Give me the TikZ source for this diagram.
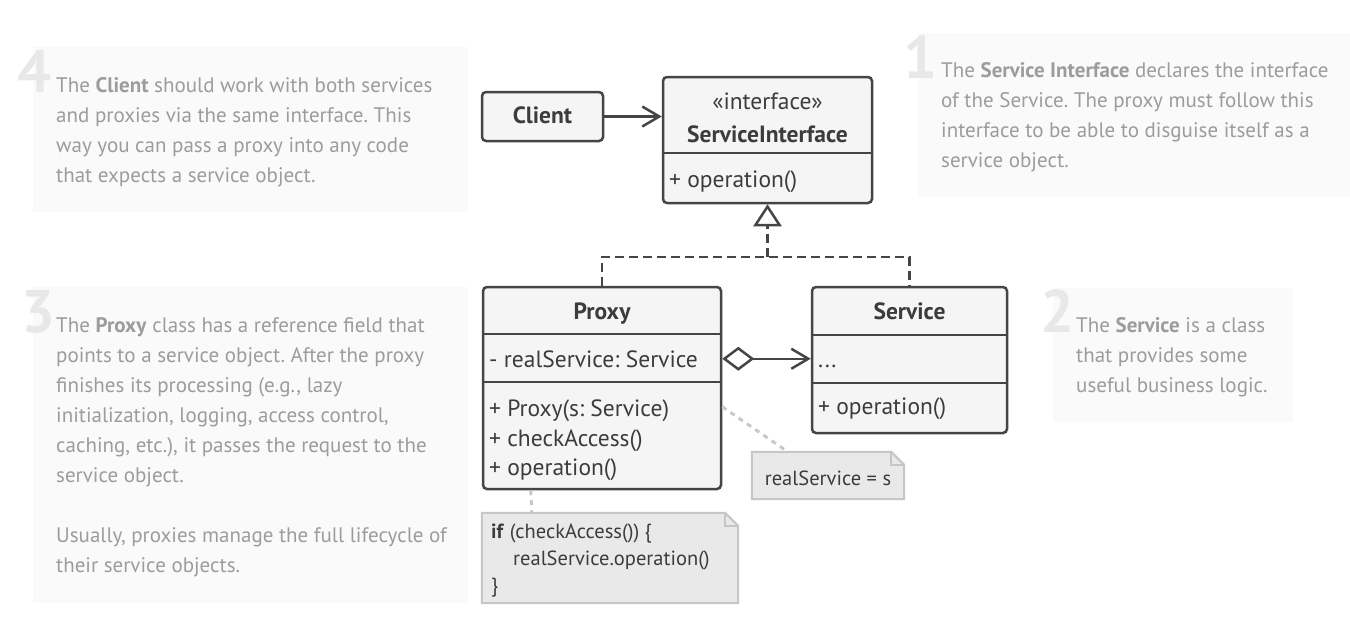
\documentclass[tikz,border=0pt]{standalone}
\usepackage{fontspec}
\setmainfont{PT Sans}
\usetikzlibrary{arrows.meta,calc,backgrounds}
\definecolor{tbfill}{HTML}{FAFAFA}
\definecolor{tbtextc}{HTML}{9C9C9C}
\definecolor{digitc}{HTML}{E8E8E8}
\definecolor{clsfill}{HTML}{F5F5F5}
\definecolor{clsborder}{HTML}{454545}
\definecolor{clstextc}{HTML}{3C3C3C}
\definecolor{notefill}{HTML}{E9E9E9}
\definecolor{noteborder}{HTML}{C6C6C6}
\definecolor{dotc}{HTML}{C8C8C8}
\frenchspacing
\tikzset{
  tbox/.style={fill=tbfill, draw=none, inner sep=0pt},
  digit/.style={text=digitc, font=\fontsize{60}{60}\selectfont\bfseries, inner sep=0pt},
  tbtext/.style={text=tbtextc, font=\fontsize{21}{30}\selectfont, align=left, inner sep=0pt},
  cls/.style={fill=clsfill, draw=clsborder, line width=2.5pt, rounded corners=4pt, inner sep=0pt},
  clsline/.style={draw=clsborder, line width=2.5pt},
  clstext/.style={text=clstextc, font=\fontsize{23.5}{28}\selectfont, inner sep=0pt},
  clsbold/.style={clstext, font=\fontsize{23.5}{28}\selectfont\bfseries},
  notetext/.style={text=clstextc, font=\fontsize{20.5}{27}\selectfont, inner sep=0pt},
  noteshape/.style={fill=notefill, draw=noteborder, line width=2pt, line join=miter},
  dotcon/.style={draw=dotc, line width=3pt, dash pattern=on 5pt off 5pt},
  dashcon/.style={draw=clsborder, line width=2.5pt, dash pattern=on 9pt off 5pt},
  conline/.style={draw=clsborder, line width=2.5pt},
  openhead/.tip={Straight Barb[length=17pt,width=20pt,line width=2.5pt]},
}
\begin{document}
\begin{tikzpicture}[x=1pt,y=-1pt]
\useasboundingbox (0,0) rectangle (1350,629);

% ---- text box 4 ----
\node[tbox, minimum width=435pt, minimum height=165pt] (b4) at (250.5,129.5) {};
\node[digit, anchor=south west] (d4) at (17,93) {4};
\node[tbtext, anchor=north west] (t4) at (56,77.7) {The \textbf{Client} should work with both services\\and proxies via the same interface. This\\way you can pass a proxy into any code\\that expects a service object.};

% ---- text box 1 ----
\node[tbox, minimum width=432pt, minimum height=164pt] (b1) at (1134,115) {};
\node[digit, anchor=south west] (d1) at (903,79) {1};
\node[tbtext, anchor=north west] (t1) at (941,62.7) {The \textbf{Service Interface} declares the interface\\of the Service. The proxy must follow this\\interface to be able to disguise itself as a\\service object.};

% ---- text box 2 ----
\node[tbox, minimum width=240pt, minimum height=134pt] (b2) at (1173,355) {};
\node[digit, anchor=south west] (d2) at (1040,333) {2};
\node[tbtext, anchor=north west] (t2) at (1076,317.7) {The \textbf{Service} is a class\\that provides some\\useful business logic.};

% ---- text box 3 ----
\node[tbox, minimum width=435pt, minimum height=316pt] (b3) at (250.5,445) {};
\node[digit, anchor=south west] (d3) at (21,334) {3};
\node[tbtext, anchor=north west] (t3) at (56,317.7) {The \textbf{Proxy} class has a reference field that\\points to a service object. After the proxy\\finishes its processing (e.g., lazy\\initialization, logging, access control,\\caching, etc.), it passes the request to the\\service object.\\[30pt]Usually, proxies manage the full lifecycle of\\their service objects.};

% ---- Client ----
\node[cls, minimum width=121pt, minimum height=49pt] (client) at (542.5,116.5) {};
\node[clsbold, anchor=base] (clientl) at (542.5,123.5) {Client};

% ---- ServiceInterface ----
\node[cls, minimum width=209pt, minimum height=126pt] (si) at (767.5,140) {};
\draw[clsline] ($(si.north west)+(0,77)$) -- ($(si.north east)+(0,77)$);
\node[clstext, anchor=base] (sil1) at (767.5,109) {«interface»};
\node[clsbold, anchor=base] (sil2) at (767.5,142) {ServiceInterface};
\node[clstext, anchor=base west] (siop) at (669,187) {+ operation()};

% ---- Proxy ----
\node[cls, minimum width=238pt, minimum height=202pt] (proxy) at (602,388) {};
\draw[clsline] ($(proxy.north west)+(0,48)$) -- ($(proxy.north east)+(0,48)$);
\draw[clsline] ($(proxy.north west)+(0,96)$) -- ($(proxy.north east)+(0,96)$);
\node[clsbold, anchor=base] (pl) at (602,319) {Proxy};
\node[clstext, anchor=base west] (pf) at (489,367) {- realService: Service};
\node[clstext, anchor=base west] (pm1) at (489,416) {+ Proxy(s: Service)};
\node[clstext, anchor=base west] (pm2) at (489,446) {+ checkAccess()};
\node[clstext, anchor=base west] (pm3) at (489,475) {+ operation()};

% ---- Service ----
\node[cls, minimum width=195pt, minimum height=146pt] (service) at (909.5,360) {};
\draw[clsline] ($(service.north west)+(0,49)$) -- ($(service.north east)+(0,49)$);
\draw[clsline] ($(service.north west)+(0,97)$) -- ($(service.north east)+(0,97)$);
\node[clsbold, anchor=base] (sl) at (909.5,319) {Service};
\node[clstext, anchor=base west] (sf) at (818,367) {...};
\node[clstext, anchor=base west] (sop) at (818,414) {+ operation()};

% ---- connectors ----
\draw[conline, -{openhead}] (client.east) -- (client.east -| si.west);
\coordinate (j) at (767.5,257);
\draw[dashcon] (proxy.north) |- (j) -| (service.north);
\draw[dashcon, -{Triangle[open,length=22pt,width=28pt,line width=2.5pt]}] (j) -- (si.south);
\coordinate (pa) at ($(proxy.north east)+(0,73)$);
\draw[conline, {Diamond[open,length=32pt,width=24pt,line width=2.5pt]}-{openhead}] (pa) -- (pa -| service.west);

% ---- notes ----
\node[notetext, minimum width=152pt, minimum height=47pt, text depth=0pt] (n1) at (828,475.5) {};
\node[notetext, anchor=base] (n1t) at (828,485) {realService = s};
\node[notetext, text width=238pt, inner xsep=9pt, inner ysep=0pt, minimum height=90pt] (n2) at (610,558) {};
\node[notetext, anchor=base west] (n2a) at (491,538) {\textbf{if} (checkAccess()) \{};
\node[notetext, anchor=base west] (n2b) at (513,565) {realService.operation()};
\node[notetext, anchor=base west] (n2c) at (491,592) {\}};
\begin{scope}[on background layer]
\draw[noteshape] (n1.north west) -- ($(n1.north east)+(-13,0)$) -- ($(n1.north east)+(0,13)$) -- (n1.south east) -- (n1.south west) -- cycle;
\draw[noteshape, fill=none] ($(n1.north east)+(-13,0)$) -- ($(n1.north east)+(-13,13)$) -- ($(n1.north east)+(0,13)$);
\draw[noteshape] (n2.north west) -- ($(n2.north east)+(-13,0)$) -- ($(n2.north east)+(0,13)$) -- (n2.south east) -- (n2.south west) -- cycle;
\draw[noteshape, fill=none] ($(n2.north east)+(-13,0)$) -- ($(n2.north east)+(-13,13)$) -- ($(n2.north east)+(0,13)$);
\end{scope}
\draw[dotcon] ($(proxy.north east)+(0,121)$) -- ($(n1.north west)+(36,0)$);
\draw[dotcon] ($(proxy.south west)+(49,0)$) -- ($(n2.north west)+(50,0)$);
\end{tikzpicture}
\end{document}
